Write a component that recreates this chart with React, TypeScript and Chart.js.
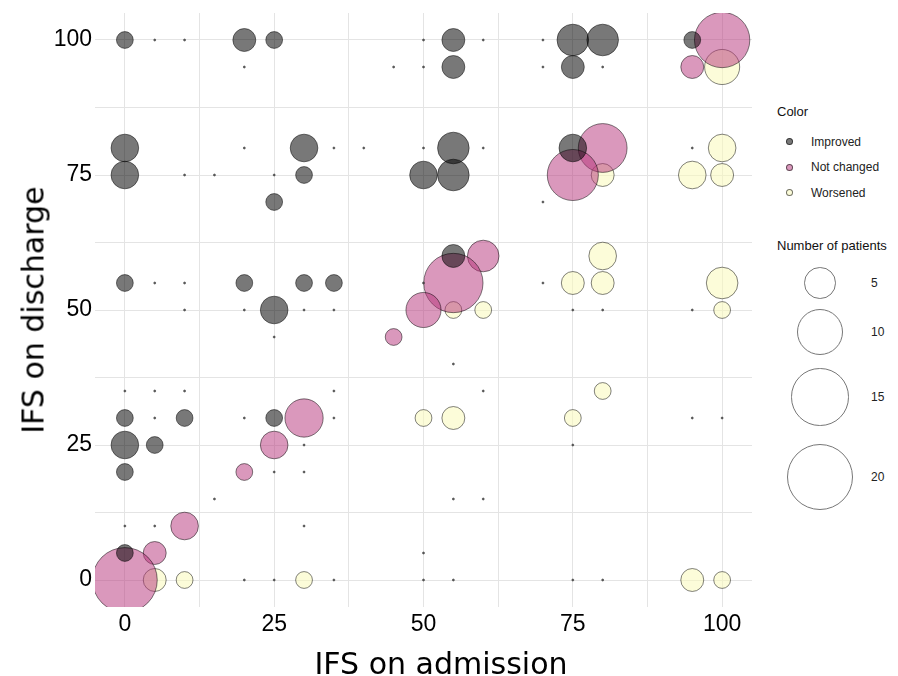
import React, { useEffect, useRef } from "react";
import { Chart, registerables } from "chart.js";

Chart.register(...registerables);

// ---- data: [admission IFS, discharge IFS, number of patients]
const improvedAdmission = [0, 5, 10, 20, 25, 50, 55, 60, 70, 75, 80, 95, 20, 45, 50, 55, 70, 75, 80, 0, 20, 30, 35, 40, 50, 55, 60, 75, 0, 10, 15, 25, 30, 50, 55, 25, 55, 0, 5, 10, 20, 30, 35, 50, 10, 20, 25, 30, 35, 25, 0, 5, 10, 0, 5, 10, 20, 25, 0, 5, 0, 0, 5, 0];
const improvedDischarge = [100, 100, 100, 100, 100, 100, 100, 100, 100, 100, 100, 100, 95, 95, 95, 95, 95, 95, 95, 80, 80, 80, 80, 80, 80, 80, 80, 80, 75, 75, 75, 75, 75, 75, 75, 70, 60, 55, 55, 55, 55, 55, 55, 55, 50, 50, 50, 50, 50, 45, 35, 35, 35, 30, 30, 30, 30, 30, 25, 25, 20, 10, 10, 5];
const improvedCount = [2, 1, 1, 3, 2, 1, 3, 1, 1, 5, 5, 2, 1, 1, 1, 3, 1, 3, 1, 4, 1, 4, 1, 1, 1, 5, 1, 4, 4, 1, 1, 1, 2, 4, 5, 2, 3, 2, 1, 1, 2, 2, 2, 1, 1, 1, 4, 1, 1, 1, 1, 1, 1, 2, 1, 2, 1, 2, 4, 2, 2, 1, 1, 2];

const notChangedAdmission = [100, 95, 80, 75, 70, 60, 55, 50, 45, 35, 30, 25, 20, 15, 10, 5, 0];
const notChangedDischarge = [100, 95, 80, 75, 70, 60, 55, 50, 45, 35, 30, 25, 20, 15, 10, 5, 0];
const notChangedCount = [14, 3, 11, 12, 1, 5, 16, 6, 2, 1, 7, 4, 2, 1, 4, 3, 19];

const worsenedAdmission = [100, 80, 95, 100, 95, 100, 70, 75, 80, 80, 100, 75, 80, 95, 100, 55, 60, 55, 60, 80, 50, 55, 75, 95, 100, 35, 30, 25, 30, 75, 55, 60, 30, 50, 5, 10, 20, 25, 30, 35, 50, 55, 75, 80, 95, 100];
const worsenedDischarge = [95, 75, 80, 80, 75, 75, 55, 55, 60, 55, 55, 50, 50, 50, 50, 50, 50, 40, 35, 35, 30, 30, 30, 30, 30, 30, 25, 20, 20, 25, 15, 15, 10, 5, 0, 0, 0, 0, 0, 0, 0, 0, 0, 0, 0, 0];
const worsenedCount = [6, 3, 1, 4, 4, 3, 1, 3, 4, 3, 5, 1, 1, 1, 2, 2, 2, 1, 1, 2, 2, 3, 2, 1, 1, 1, 1, 1, 1, 1, 1, 1, 1, 1, 3, 2, 1, 1, 2, 1, 1, 1, 1, 1, 3, 2];

const axisTicks = [0, 25, 50, 75, 100];
const gridSteps = [0, 12.5, 25, 37.5, 50, 62.5, 75, 87.5, 100];
const sizeLegendValues = [5, 10, 15, 20];

const seriesNames = ["Improved", "Not changed", "Worsened"];
const fills = ["rgba(0,0,0,0.53)", "rgba(181,49,122,0.5)", "rgba(250,250,185,0.55)"];
const strokes = "rgba(0,0,0,0.55)";

// size scale (area-like, like ggplot scale_size): count -> radius in px
const radiusOf = (n: number) => 1.0 + 7.4 * Math.sqrt(Math.max(n - 1, 0));

const toPoints = (xs: number[], ys: number[], ns: number[]) =>
  xs.map((x, i) => ({ x, y: ys[i], r: radiusOf(ns[i]), n: ns[i] }));

export default function App() {
  const ref = useRef<HTMLCanvasElement | null>(null);

  useEffect(() => {
    if (!ref.current) return;
    const series = [
      toPoints(improvedAdmission, improvedDischarge, improvedCount),
      toPoints(notChangedAdmission, notChangedDischarge, notChangedCount),
      toPoints(worsenedAdmission, worsenedDischarge, worsenedCount),
    ];
    const setTicks = (s: any) => {
      s.ticks = gridSteps.map((v) => ({ value: v }));
    };
    const tickCb = (v: any) => (axisTicks.includes(Number(v)) ? String(v) : "");
    const isTiny = (ctx: any) => ctx.raw && ctx.raw.n === 1;
    const chart = new Chart(ref.current, {
      type: "bubble",
      data: {
        datasets: series.map((d, i) => ({
          label: seriesNames[i],
          data: d,
          backgroundColor: (ctx: any) => (isTiny(ctx) ? "rgba(60,60,60,0.8)" : fills[i]),
          borderColor: (ctx: any) => (isTiny(ctx) ? "rgba(60,60,60,0.8)" : strokes),
          borderWidth: (ctx: any) => (isTiny(ctx) ? 0.8 : 0.9),
          hoverBorderWidth: 0.9,
          clip: 0,
        })),
      },
      options: {
        responsive: false,
        animation: false,
        layout: { autoPadding: false, padding: { top: 13, right: 8, left: 0, bottom: 0 } },
        plugins: { legend: { display: false }, tooltip: { enabled: false } },
        scales: {
          x: {
            type: "linear",
            min: -5,
            max: 105,
            afterBuildTicks: setTicks,
            afterFit: (s: any) => {
              s.height = 69;
              s.paddingLeft = 0;
              s.paddingRight = 0;
            },
            border: { display: false },
            grid: { color: "#e4e4e4", lineWidth: 1, drawTicks: false },
            ticks: {
              callback: tickCb,
              autoSkip: false,
              maxRotation: 0,
              padding: 4,
              color: "#000",
              font: { family: "Liberation Sans", size: 23 },
            },
          },
          y: {
            type: "linear",
            min: -5,
            max: 105,
            afterBuildTicks: setTicks,
            afterFit: (s: any) => {
              s.width = 95;
              s.paddingTop = 0;
              s.paddingBottom = 0;
            },
            border: { display: false },
            grid: { color: "#e4e4e4", lineWidth: 1, drawTicks: false },
            ticks: {
              callback: tickCb,
              autoSkip: false,
              padding: 3,
              color: "#000",
              font: { family: "Liberation Sans", size: 23 },
            },
          },
        },
      },
    });
    return () => chart.destroy();
  }, []);

  const legendDot = (i: number) => (
    <div
      key={seriesNames[i]}
      style={{ position: "absolute", left: 786, top: 134 + i * 25.5, height: 15, display: "flex", alignItems: "center" }}
    >
      <div
        style={{
          width: 7,
          height: 7,
          borderRadius: "50%",
          background: fills[i],
          border: "0.8px solid rgba(0,0,0,0.55)",
          boxSizing: "border-box",
        }}
      />
      <span style={{ marginLeft: 18, fontSize: 12, color: "#222" }}>{seriesNames[i]}</span>
    </div>
  );

  const sizeCenters = [283, 332, 397, 477];

  return (
    <div
      style={{
        position: "absolute",
        left: 0,
        top: 0,
        width: 898,
        height: 676,
        background: "#fff",
        fontFamily: "Liberation Sans, Arial, sans-serif",
        overflow: "hidden",
      }}
    >
      <canvas ref={ref} width={760} height={676} style={{ position: "absolute", left: 0, top: 0 }} />
      <div
        style={{
          position: "absolute",
          left: 441,
          top: 663,
          transform: "translate(-50%, -50%)",
          fontFamily: "DejaVu Sans",
          fontSize: 30,
          whiteSpace: "nowrap",
          color: "#000",
        }}
      >
        IFS on admission
      </div>
      <div
        style={{
          position: "absolute",
          left: 33,
          top: 310,
          transform: "translate(-50%, -50%) rotate(-90deg)",
          fontFamily: "DejaVu Sans",
          fontSize: 30,
          whiteSpace: "nowrap",
          color: "#000",
        }}
      >
        IFS on discharge
      </div>
      <div style={{ position: "absolute", left: 777, top: 104, fontSize: 13, color: "#111" }}>Color</div>
      {seriesNames.map((_, i) => legendDot(i))}
      <div style={{ position: "absolute", left: 777, top: 238, fontSize: 13, color: "#111", whiteSpace: "nowrap" }}>
        Number of patients
      </div>
      {sizeLegendValues.map((v, i) => {
        const r = radiusOf(v);
        return (
          <React.Fragment key={v}>
            <div
              style={{
                position: "absolute",
                left: 820 - r,
                top: sizeCenters[i] - r,
                width: 2 * r,
                height: 2 * r,
                borderRadius: "50%",
                border: "1px solid #777",
                boxSizing: "border-box",
              }}
            />
            <div
              style={{
                position: "absolute",
                left: 871,
                top: sizeCenters[i] - 8,
                fontSize: 12,
                color: "#222",
                lineHeight: "16px",
              }}
            >
              {v}
            </div>
          </React.Fragment>
        );
      })}
    </div>
  );
}
